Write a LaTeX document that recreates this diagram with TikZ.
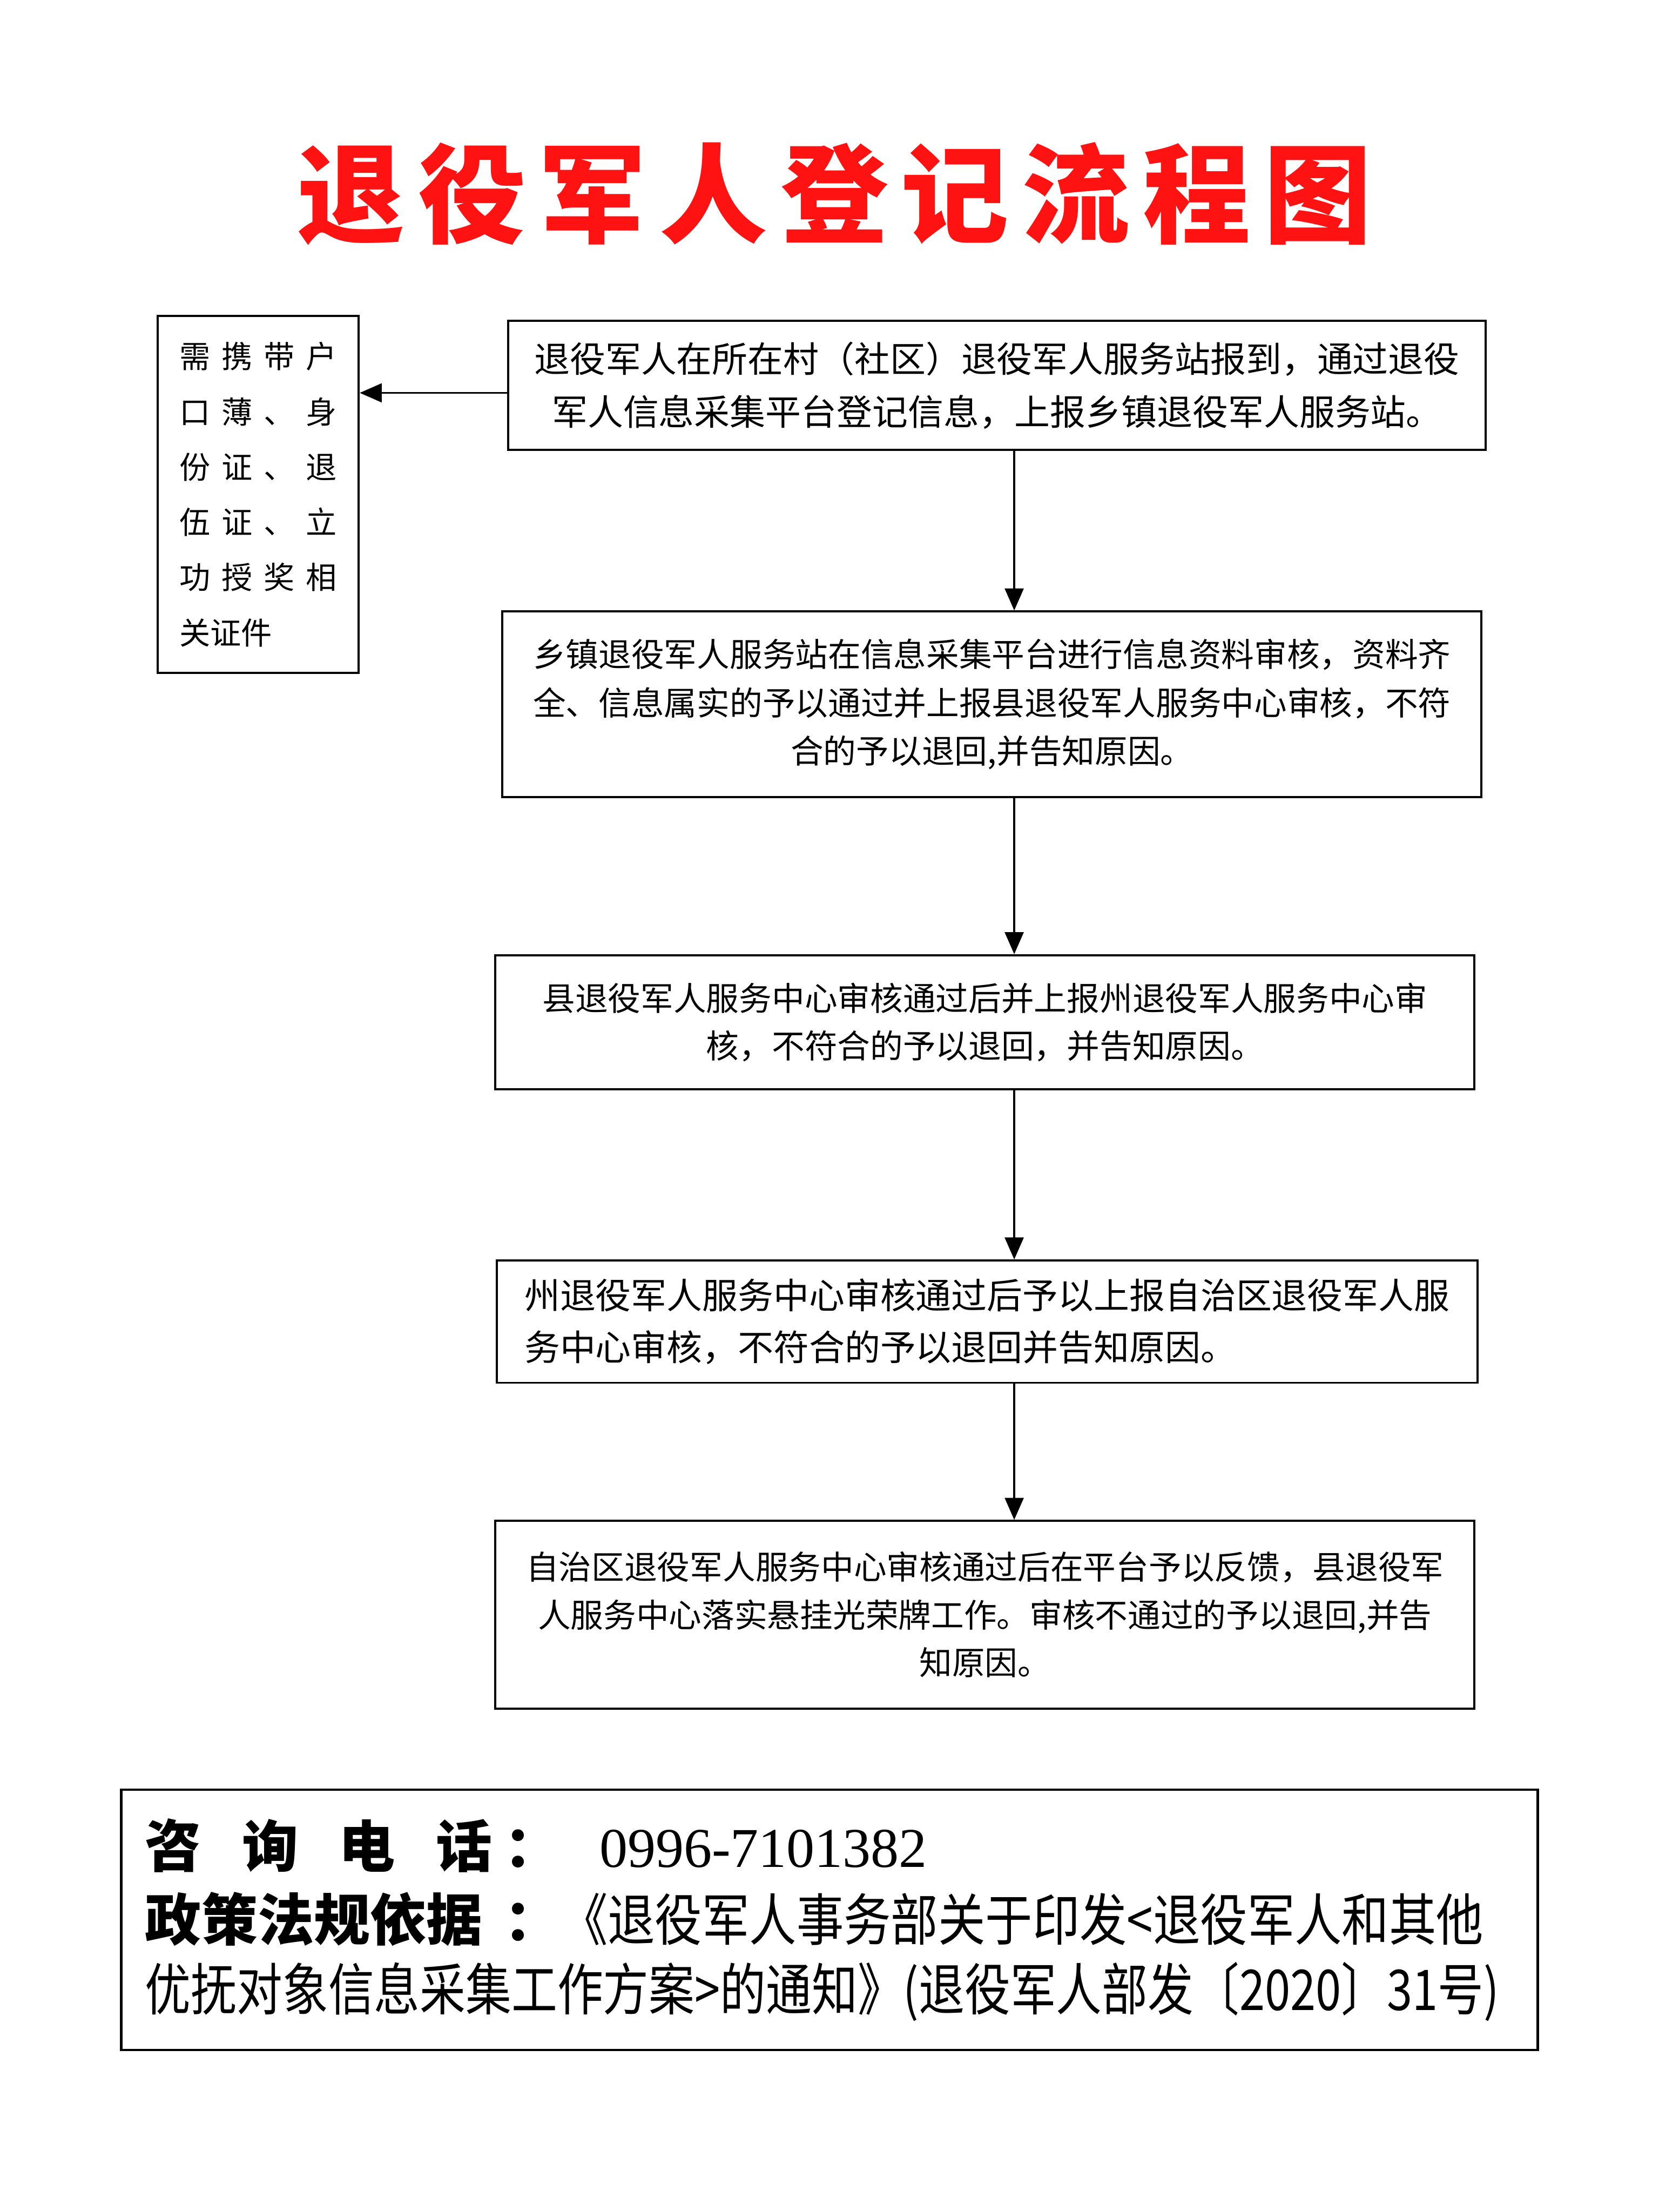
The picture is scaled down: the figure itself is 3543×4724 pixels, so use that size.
\documentclass[tikz,border=0pt]{standalone}
\usepackage{fontspec}
\setmainfont{Noto Sans CJK SC}
\newfontfamily\cjkcondA[FakeStretch=0.84]{Noto Sans CJK SC}
\newfontfamily\cjkcondB[FakeStretch=0.815]{Noto Sans CJK SC}
\newfontfamily\phonefont{Liberation Serif}
\usetikzlibrary{arrows.meta}
\definecolor{titlered}{RGB}{255,18,18}
\newcommand\tsp{\hspace{28pt}}
\newcommand\jl[4]{\makebox[336pt][s]{#1\hfill#2\hfill#3\hfill#4}}
\begin{document}
\begin{tikzpicture}[x=1pt,y=-1pt,
  box/.style={draw=black, line width=4.5pt, inner sep=0pt, align=center},
  arr/.style={line width=4.5pt, -{Triangle[length=47pt,width=40pt]}},
  infoline/.style={anchor=west, inner sep=0pt, font=\fontsize{120}{156}\selectfont}
]
\fill[white] (0,0) rectangle (3543,4724);
\useasboundingbox (0,0) rectangle (3543,4724);

\node[text=titlered, inner sep=0pt, font=\fontsize{230}{260}\selectfont\bfseries] (title) at (1782,414)
  {退\tsp 役\tsp 军\tsp 人\tsp 登\tsp 记\tsp 流\tsp 程\tsp 图};

\node[box, minimum width=429pt, minimum height=762pt, align=left,
      font=\fontsize{66}{118}\selectfont] (b0) at (551.5,1056)
  {\jl{需}{携}{带}{户}\\\jl{口}{薄}{、}{身}\\\jl{份}{证}{、}{退}\\\jl{伍}{证}{、}{立}\\\jl{功}{授}{奖}{相}\\关证件};

\node[box, minimum width=2088pt, minimum height=276pt,
      font=\fontsize{76}{113}\selectfont] (b1) at (2129,823)
  {退役军人在所在村（社区）退役军人服务站报到，通过退役\\军人信息采集平台登记信息，上报乡镇退役军人服务站。};

\node[box, minimum width=2091pt, minimum height=396pt,
      font=\fontsize{70}{103}\selectfont] (b2) at (2118.5,1504)
  {乡镇退役军人服务站在信息采集平台进行信息资料审核，资料齐\\全、信息属实的予以通过并上报县退役军人服务中心审核，不符\\合的予以退回,并告知原因。};

\node[box, minimum width=2091pt, minimum height=286pt,
      font=\fontsize{70}{101}\selectfont] (b3) at (2103.5,2183)
  {县退役军人服务中心审核通过后并上报州退役军人服务中心审\\核，不符合的予以退回，并告知原因。};

\node[box, minimum width=2094pt, minimum height=261pt, align=left,
      font=\fontsize{76}{111}\selectfont] (b4) at (2108,2822.5)
  {州退役军人服务中心审核通过后予以上报自治区退役军人服\\务中心审核，不符合的予以退回并告知原因。};

\node[box, minimum width=2091pt, minimum height=401pt,
      font=\fontsize{70}{102}\selectfont] (b5) at (2103.5,3448.5)
  {自治区退役军人服务中心审核通过后在平台予以反馈，县退役军\\人服务中心落实悬挂光荣牌工作。审核不通过的予以退回,并告\\知原因。};

\node[box, line width=5pt, minimum width=3025pt, minimum height=556pt] (info) at (1771.5,4100) {};
\node[infoline] (i1) at (310,3941)
  {{\bfseries 咨\hspace{87pt}询\hspace{87pt}电\hspace{87pt}话\hspace{26pt}：}\hspace{83pt}{\phonefont 0996-7101382}};
\node[infoline] (i2) at (310,4098)
  {{\bfseries 政策法规依据\hspace{47pt}：}{\cjkcondA 《退役军人事务部关于印发<退役军人和其他}};
\node[infoline] (i3) at (310,4254)
  {\cjkcondB 优抚对象信息采集工作方案>的通知》(退役军人部发〔2020〕31号)};

\coordinate (ax) at (2166,0);
\coordinate (la) at (1085,839);
\draw[arr] (b1.south -| ax) -- (b2.north -| ax);
\draw[arr] (b2.south -| ax) -- (b3.north -| ax);
\draw[arr] (b3.south -| ax) -- (b4.north -| ax);
\draw[arr] (b4.south -| ax) -- (b5.north -| ax);
\draw[arr] (b1.west |- la) -- (b0.east |- la);
\end{tikzpicture}
\end{document}
